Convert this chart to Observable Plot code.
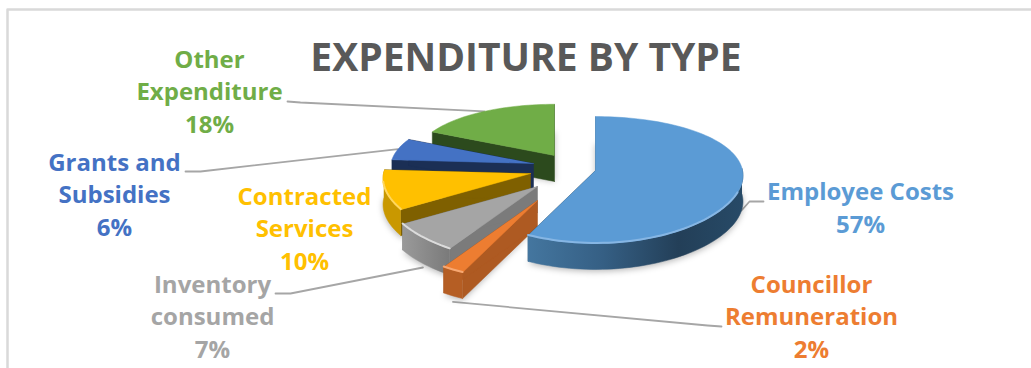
<!DOCTYPE html>
<html>
<head>
<meta charset="utf-8">
<style>
  html, body { margin: 0; padding: 0; background: #fff; }
  svg { display: block; }
</style>
<script src="https://cdn.jsdelivr.net/npm/d3@7"></script>
<script src="https://cdn.jsdelivr.net/npm/@observablehq/plot@0.6"></script>
</head>
<body>
<div id="chart"></div>
<script>
// Expenditure shares, clockwise from twelve o'clock
const categories = ["Employee Costs", "Councillor\nRemuneration", "Inventory\nconsumed", "Contracted\nServices", "Grants and\nSubsidies", "Other\nExpenditure"];
const shares = [57, 2, 7, 10, 6, 18];

const topColors = ["#5b9bd5", "#ed7d31", "#a5a5a5", "#ffc000", "#4472c4", "#70ad47"];
const wallColors = ["#2f5470", "#ae5a22", "#7b7b7b", "#7f6000", "#1b2f55", "#2c4a1d"];
const rimColors = ["url(#employeeRim)", "#b55e24", "url(#inventoryRim)", "#c99800", "#2f5597", "#4b7a2e"];
const bevelColors = ["#86b6e4", "#f6a873", "#dcdcdc", "#ffd75e", null, null];

// Pie geometry: a tilted disc seen in perspective, each slice pulled away from the centre
const pie = {cx: 545, cy: 170, rx: 147, ry: 62, perspectiveX: 0.08, perspectiveY: 0.15, depth: 26};
const pull = [[50, 0], [-8, 30], [-8, 16], [-15, 3], [-12, -7], [9, -15]];
const reach = [1, 1.11, 1.04, 1, 0.97, 0.95];

// Label placement: centre x, baseline of the last line, leader elbow and leader end
const labelPlace = [
  {x: 860, y: 232, elbow: [749, 201], end: [763, 201], drop: 26},
  {x: 811, y: 357, elbow: [707, 325], end: [721, 326], drop: 32},
  {x: 212, y: 357, elbow: [290, 293], end: [275, 293], drop: 30},
  {x: 304, y: 269},
  {x: 114, y: 235, elbow: [200, 171], end: [185, 171], drop: 0},
  {x: 209, y: 132, elbow: [300, 102], end: [287, 101], drop: 0}
];

const W = 1031, H = 368;

// Cumulative start and end angles in degrees
const total = d3.sum(shares);
let running = 0;
const slices = shares.map((v, i) => {
  const a0 = running / total * 360;
  running += v;
  return {i, a0, a1: running / total * 360, mid: (a0 + running / total * 360) / 2};
});

// Screen position of a point at angle `deg` on the rim of slice i, or its apex for r = 0
function project(i, deg, r = 1, drop = 0) {
  const t = deg * Math.PI / 180;
  const u = Math.sin(t) * r * reach[i], v = Math.cos(t) * r;
  return {
    x: pie.cx + pull[i][0] + pie.rx * u / (1 + pie.perspectiveX * v),
    y: pie.cy + pull[i][1] - pie.ry * v * reach[i] / (1 + pie.perspectiveY * v) + drop
  };
}

function arc(i, a0, a1, drop = 0) {
  const n = Math.max(2, Math.ceil(Math.abs(a1 - a0) / 2));
  return d3.range(n + 1).map(k => project(i, a0 + (a1 - a0) * k / n, 1, drop));
}

const polygon = (pts, fill) => Plot.line(pts, {x: "x", y: "y", fill, stroke: fill, strokeWidth: 0.5});

const marks = [];

// Chart frame: left and top edges only
marks.push(Plot.line([{x: 7, y: H}, {x: 7, y: 9}, {x: W, y: 9}], {x: "x", y: "y", stroke: "#d9d9d9", strokeWidth: 2.5}));

// Leader lines run under the slices so they start from the hidden rim
labelPlace.forEach((p, i) => {
  if (!p.elbow) return;
  const start = project(i, slices[i].mid, 1, p.drop);
  const pts = [start, {x: p.elbow[0], y: p.elbow[1]}, {x: p.end[0], y: p.end[1]}];
  marks.push(Plot.line(pts, {x: "x", y: "y", stroke: "#a6a6a6", strokeWidth: 1.8}));
});

// Back slices first so nearer ones overlap them
const order = [5, 4, 3, 2, 1, 0];
for (const i of order) {
  const {a0, a1} = slices[i];
  const apex = project(i, 0, 0);
  const apexLow = project(i, 0, 0, pie.depth);
  const rimTop = arc(i, a0, a1);
  const rimLow = arc(i, a0, a1, pie.depth);

  // Soft shadow under the slice
  marks.push(Plot.line([apexLow, ...arc(i, a0, a1, pie.depth + 2)], {
    x: "x", y: "y", fill: "#000", fillOpacity: 0.28, stroke: "none", imageFilter: "blur(3px)"
  }));

  // Cut walls along both edges
  marks.push(polygon([apex, rimTop[0], rimLow[0], apexLow], wallColors[i]));
  marks.push(polygon([apex, rimTop[rimTop.length - 1], rimLow[rimLow.length - 1], apexLow], wallColors[i]));

  // Outer rim, only where it faces the viewer
  const rimFrom = Math.max(a0, 88), rimTo = Math.min(a1, 272);
  if (rimFrom < rimTo) {
    marks.push(polygon([...arc(i, rimFrom, rimTo), ...arc(i, rimFrom, rimTo, pie.depth).reverse()], rimColors[i]));
  }

  // Upper face
  marks.push(polygon([apex, ...rimTop], topColors[i]));

  // Light bevel on the near part of the upper rim
  if (bevelColors[i]) {
    const from = Math.max(a0, 110), to = Math.min(a1, 262);
    marks.push(Plot.line(arc(i, from, to, -0.5), {
      x: "x", y: "y", stroke: bevelColors[i], strokeWidth: 2, imageFilter: "blur(0.6px)"
    }));
  }
}

// Title
marks.push(Plot.text(["EXPENDITURE BY TYPE"], {
  x: () => 525.5, y: () => 70, text: d => d, lineAnchor: "bottom", textAnchor: "middle",
  fill: "#595959", fontSize: 39, fontWeight: 700
}));

// Category and share labels
marks.push(Plot.text(slices, {
  x: d => labelPlace[d.i].x,
  y: d => labelPlace[d.i].y,
  text: d => `${categories[d.i]}\n${shares[d.i]}%`,
  fill: d => topColors[d.i],
  textAnchor: "middle",
  lineAnchor: "bottom",
  lineHeight: 1.34,
  fontSize: 24,
  fontWeight: 700
}));

const plot = Plot.plot({
  width: W, height: H,
  margin: 0,
  style: {fontFamily: "'Open Sans', sans-serif", background: "#fff", overflow: "hidden"},
  x: {domain: [0, W], range: [0, W], axis: null},
  y: {domain: [0, H], range: [0, H], axis: null},
  color: {type: "identity"},
  marks
});

// Rim shading: the side of each slice darkens as it turns away from the light
const ns = "http://www.w3.org/2000/svg";
const defs = document.createElementNS(ns, "defs");
const gradient = (id, stops) => {
  const g = document.createElementNS(ns, "linearGradient");
  g.setAttribute("id", id);
  stops.forEach(([offset, color]) => {
    const s = document.createElementNS(ns, "stop");
    s.setAttribute("offset", offset);
    s.setAttribute("stop-color", color);
    g.appendChild(s);
  });
  defs.appendChild(g);
};
gradient("employeeRim", [[0, "#44769f"], [0.35, "#355f84"], [0.7, "#233f58"], [1, "#274a67"]]);
gradient("inventoryRim", [[0, "#9a9a9a"], [1, "#7a7a7a"]]);
plot.insertBefore(defs, plot.firstChild);

document.getElementById("chart").appendChild(plot);
</script>
</body>
</html>
